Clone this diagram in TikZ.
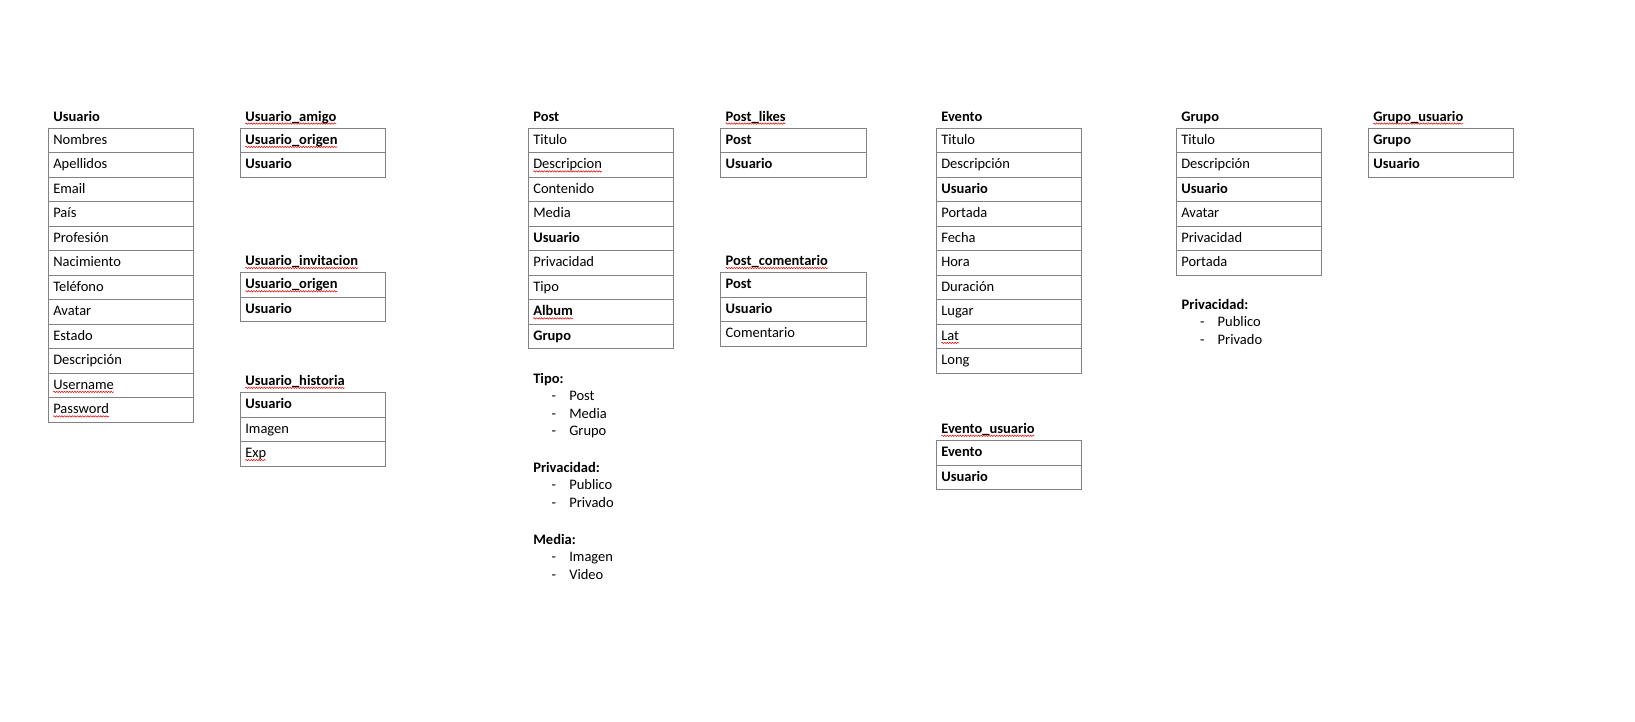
\documentclass[tikz,border=0pt]{standalone}
\usepackage{fontspec}
\setmainfont{Carlito}
\usetikzlibrary{decorations.pathmorphing}
\definecolor{bordergray}{RGB}{130,130,130}
\definecolor{squigred}{RGB}{225,30,30}
\tikzset{
  rn/.style={inner sep=0pt, outer sep=0pt, anchor=base west, font=\fontsize{14.5}{16}\selectfont},
  rb/.style={rn, font=\fontsize{14.5}{16}\selectfont\bfseries},
  squigline/.style={draw=squigred, line width=0.6pt, decorate,
    decoration={snake, segment length=2.6pt, amplitude=0.7pt}},
  rs/.style={rn, append after command={\pgfextra{\draw[squigline]
    ([yshift=-2.6pt]\tikzlastnode.base west) -- ([yshift=-2.6pt]\tikzlastnode.base east);}}},
  rbs/.style={rb, append after command={\pgfextra{\draw[squigline]
    ([yshift=-2.6pt]\tikzlastnode.base west) -- ([yshift=-2.6pt]\tikzlastnode.base east);}}},
  cellbox/.style={draw=bordergray, line width=1pt},
}
% #1 id, #2 left x, #3 top y, #4 title style, #5 title, #6 rows (style/text)
\newcommand\ertable[6]{%
  \node[#4] (#1-title) at ({#2+5}, {#3-7.3}) {#5};
  \foreach \st/\tx [count=\i] in {#6} {
    \draw[cellbox] (#2, {#3+(\i-1)*24.5}) rectangle ++(145.3, 24.5);
    \node[\st] (#1-\i) at ({#2+5}, {#3+16+(\i-1)*24.5}) {\tx};
  }
}
% #1 id, #2 heading x, #3 baseline y, #4 text
\newcommand\noteitem[4]{%
  \node[rn] (#1-dash) at ({#2+18.4}, #3) {-};
  \node[rn] (#1) at ({#2+36}, #3) {#4};
}
\begin{document}
\begin{tikzpicture}[x=1pt, y=-1pt]
\useasboundingbox[fill=white] (0,0) rectangle (1635,721);

\ertable{usuario}{48.3}{128.3}{rb}{Usuario}{rn/Nombres, rn/Apellidos, rn/Email, rn/País, rn/Profesión, rn/Nacimiento, rn/Teléfono, rn/Avatar, rn/Estado, rn/Descripción, rs/Username, rs/Password}

\ertable{uamigo}{240.3}{128.3}{rbs}{Usuario\_amigo}{rbs/Usuario\_origen, rb/Usuario}
\ertable{uinv}{240.3}{272.7}{rbs}{Usuario\_invitacion}{rbs/Usuario\_origen, rb/Usuario}
\ertable{uhist}{240.3}{392.5}{rbs}{Usuario\_historia}{rb/Usuario, rn/Imagen, rs/Exp}

\ertable{post}{528.3}{128.3}{rb}{Post}{rn/Titulo, rs/Descripcion, rn/Contenido, rn/Media, rb/Usuario, rn/Privacidad, rn/Tipo, rbs/Album, rb/Grupo}

\ertable{plikes}{720.7}{128.3}{rbs}{Post\_likes}{rb/Post, rb/Usuario}
\ertable{pcom}{720.7}{272.7}{rbs}{Post\_comentario}{rb/Post, rb/Usuario, rn/Comentario}

\ertable{evento}{936.3}{128.3}{rb}{Evento}{rn/Titulo, rn/Descripción, rb/Usuario, rn/Portada, rn/Fecha, rn/Hora, rn/Duración, rn/Lugar, rs/Lat, rn/Long}
\ertable{eusu}{936.3}{440.5}{rbs}{Evento\_usuario}{rb/Evento, rb/Usuario}

\ertable{grupo}{1176.3}{128.3}{rb}{Grupo}{rn/Titulo, rn/Descripción, rb/Usuario, rn/Avatar, rn/Privacidad, rn/Portada}
\ertable{gusu}{1368.3}{128.3}{rbs}{Grupo\_usuario}{rb/Grupo, rb/Usuario}

% Post notes
\node[rb] (ptipo) at (533.3, 383.3) {Tipo:};
\noteitem{ptipo1}{533.3}{400.6}{Post}
\noteitem{ptipo2}{533.3}{418}{Media}
\noteitem{ptipo3}{533.3}{435.3}{Grupo}
\node[rb] (ppriv) at (533.3, 472.3) {Privacidad:};
\noteitem{ppriv1}{533.3}{489.8}{Publico}
\noteitem{ppriv2}{533.3}{507.3}{Privado}
\node[rb] (pmedia) at (533.3, 544.3) {Media:};
\noteitem{pmedia1}{533.3}{561.8}{Imagen}
\noteitem{pmedia2}{533.3}{579.3}{Video}

% Grupo notes
\node[rb] (gpriv) at (1181.7, 309) {Privacidad:};
\noteitem{gpriv1}{1181.7}{326.8}{Publico}
\noteitem{gpriv2}{1181.7}{344.5}{Privado}
\end{tikzpicture}
\end{document}
